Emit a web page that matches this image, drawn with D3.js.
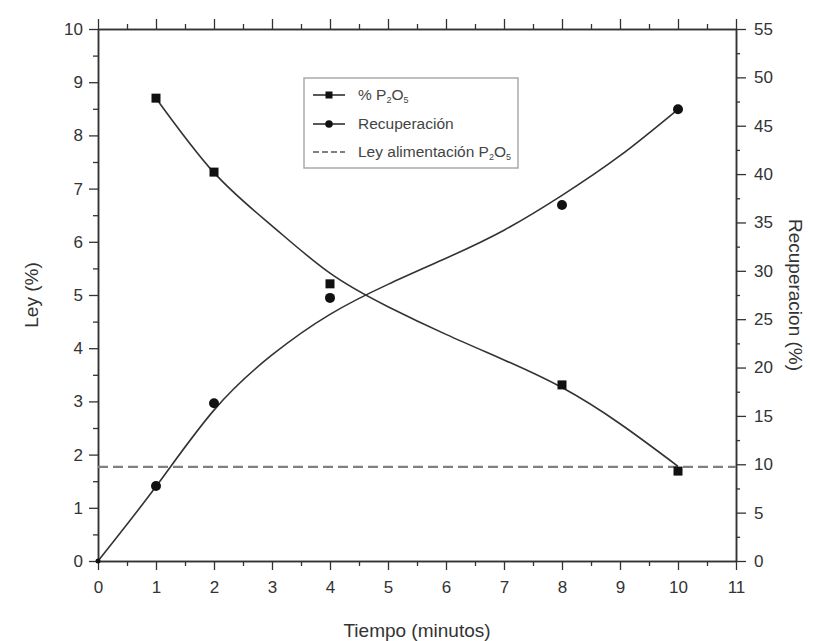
<!DOCTYPE html>
<html>
<head>
<meta charset="utf-8">
<script src="https://cdn.jsdelivr.net/npm/d3@7"></script>
<style>
	body { margin: 0; background: #fff; }
	svg { font-family: "Liberation Sans", Arial, sans-serif; }
	.axis path, .axis line { stroke: #333; }
	.axis text { fill: #333; font-size: 17px; }
</style>
</head>
<body>
<script>
// Measured points
const tiempo = [1, 2, 4, 8, 10];
const leyP2O5 = [8.7, 7.31, 5.21, 3.31, 1.69];
const recTiempo = [0, 1, 2, 4, 8, 10];
const recuperacion = [0, 7.75, 16.3, 27.2, 36.8, 46.7];

// Fitted curves
const leyCurveX = [1, 2, 3, 4, 5, 6, 7, 8, 9, 10];
const leyCurveY = [8.7, 7.3, 6.3, 5.41, 4.78, 4.26, 3.78, 3.26, 2.58, 1.78];
const recCurveX = [0, 1, 2, 3, 4, 5, 6, 7, 8, 9, 10];
const recCurveY = [0, 7.7, 15.6, 21.3, 25.5, 28.6, 31.3, 34.2, 37.8, 41.9, 46.7];

// Feed grade (dashed line), left axis
const leyAlimentacion = 1.77;

// Ticks
const xTicks = d3.range(0, 12, 1);
const xMinor = d3.range(0.5, 11, 1);
const yLeftTicks = d3.range(0, 11, 1);
const yLeftMinor = d3.range(0.5, 10, 1);
const yRightTicks = d3.range(0, 56, 5);
const yRightMinor = d3.range(2.5, 55, 5);

const w = 813;
const h = 641;
const plotL = 98, plotR = 736, plotT = 29, plotB = 561;

const svg = d3.select("body").append("svg").attr("width", w).attr("height", h);

const x = d3.scaleLinear().domain([0, 11]).range([plotL, plotR]);
const yL = d3.scaleLinear().domain([0, 10]).range([plotB, plotT]);
const yR = d3.scaleLinear().domain([0, 55]).range([plotB, plotT]);

// Axes
function addAxis(axis, tx, ty) {
	const g = svg.append("g").attr("class", "axis")
		.attr("transform", `translate(${tx},${ty})`).call(axis);
	g.select(".domain").attr("stroke-width", 1.5);
	g.selectAll(".tick line").attr("stroke-width", 1.3);
	return g;
}

addAxis(d3.axisBottom(x).tickValues(xTicks).tickSize(9).tickPadding(11).tickSizeOuter(0), 0, plotB);
addAxis(d3.axisBottom(x).tickValues(xMinor).tickSize(5).tickFormat("").tickSizeOuter(0), 0, plotB);
addAxis(d3.axisBottom(x).tickValues(xTicks).tickSize(-10).tickFormat("").tickSizeOuter(0), 0, plotT);
addAxis(d3.axisBottom(x).tickValues(xMinor).tickSize(-5).tickFormat("").tickSizeOuter(0), 0, plotT);

addAxis(d3.axisLeft(yL).tickValues(yLeftTicks).tickSize(9).tickPadding(6).tickSizeOuter(0), plotL, 0);
addAxis(d3.axisLeft(yL).tickValues(yLeftMinor).tickSize(5).tickFormat("").tickSizeOuter(0), plotL, 0);

addAxis(d3.axisRight(yR).tickValues(yRightTicks).tickSize(10).tickPadding(8).tickSizeOuter(0), plotR, 0);
addAxis(d3.axisRight(yR).tickValues(yRightMinor).tickSize(4).tickFormat("").tickSizeOuter(0), plotR, 0);

// Axis titles
svg.append("text")
	.attr("x", (plotL + plotR) / 2)
	.attr("y", 637)
	.attr("text-anchor", "middle")
	.attr("fill", "#333")
	.attr("font-size", 19)
	.text("Tiempo (minutos)");

svg.append("text")
	.attr("transform", `translate(38, ${(plotT + plotB) / 2}) rotate(-90)`)
	.attr("text-anchor", "middle")
	.attr("fill", "#333")
	.attr("font-size", 19)
	.text("Ley (%)");

svg.append("text")
	.attr("transform", `translate(789, ${(plotT + plotB) / 2}) rotate(90)`)
	.attr("text-anchor", "middle")
	.attr("fill", "#333")
	.attr("font-size", 19)
	.text("Recuperacion (%)");

// Dashed feed grade line
svg.append("line")
	.attr("x1", x(0)).attr("x2", x(11))
	.attr("y1", yL(leyAlimentacion)).attr("y2", yL(leyAlimentacion))
	.attr("stroke", "#808080")
	.attr("stroke-width", 2.2)
	.attr("stroke-dasharray", "10,5");

// Curves
const leyLine = d3.line().x((d, i) => x(leyCurveX[i])).y((d) => yL(d)).curve(d3.curveNatural);
const recLine = d3.line().x((d, i) => x(recCurveX[i])).y((d) => yR(d)).curve(d3.curveNatural);

svg.append("path").attr("d", leyLine(leyCurveY))
	.attr("fill", "none").attr("stroke", "#333").attr("stroke-width", 1.6);
svg.append("path").attr("d", recLine(recCurveY))
	.attr("fill", "none").attr("stroke", "#333").attr("stroke-width", 1.6);

// Markers
svg.selectAll("rect.ley")
	.data(leyP2O5)
	.enter()
	.append("rect")
	.attr("class", "ley")
	.attr("x", (d, i) => x(tiempo[i]) - 4.5)
	.attr("y", (d) => yL(d) - 4.5)
	.attr("width", 9)
	.attr("height", 9)
	.attr("fill", "#111");

svg.selectAll("circle.rec")
	.data(recuperacion)
	.enter()
	.append("circle")
	.attr("class", "rec")
	.attr("cx", (d, i) => x(recTiempo[i]))
	.attr("cy", (d) => yR(d))
	.attr("r", (d, i) => (recTiempo[i] === 0 ? 2.5 : 5))
	.attr("fill", "#111");

// Legend
const legend = svg.append("g").attr("transform", "translate(304, 78)");
legend.append("rect")
	.attr("width", 214)
	.attr("height", 90)
	.attr("fill", "#fff")
	.attr("stroke", "#aaa")
	.attr("stroke-width", 1.5);

const rows = [
	{ y: 17, marker: "square", dash: null },
	{ y: 46, marker: "circle", dash: null },
	{ y: 74, marker: null, dash: "6,3" },
];

rows.forEach((r) => {
	legend.append("line")
		.attr("x1", 9).attr("x2", 41)
		.attr("y1", r.y).attr("y2", r.y)
		.attr("stroke", r.dash ? "#808080" : "#222")
		.attr("stroke-width", r.dash ? 2 : 1.5)
		.attr("stroke-dasharray", r.dash);
	if (r.marker === "square") {
		legend.append("rect").attr("x", 21.5).attr("y", r.y - 3.5).attr("width", 7).attr("height", 7).attr("fill", "#111");
	} else if (r.marker === "circle") {
		legend.append("circle").attr("cx", 25).attr("cy", r.y).attr("r", 3.8).attr("fill", "#111");
	}
});

const lt = legend.append("g").attr("fill", "#444").attr("font-size", 15.5);

const t1 = lt.append("text").attr("x", 54).attr("y", 22);
t1.append("tspan").text("% P");
t1.append("tspan").attr("font-size", 9).attr("dy", 3).text("2");
t1.append("tspan").attr("dy", -3).text("O");
t1.append("tspan").attr("font-size", 9).attr("dy", 3).text("5");

lt.append("text").attr("x", 54).attr("y", 51).text("Recuperación");

const t3 = lt.append("text").attr("x", 54).attr("y", 79);
t3.append("tspan").text("Ley alimentación P");
t3.append("tspan").attr("font-size", 9).attr("dy", 3).text("2");
t3.append("tspan").attr("dy", -3).text("O");
t3.append("tspan").attr("font-size", 9).attr("dy", 3).text("5");
</script>
</body>
</html>
